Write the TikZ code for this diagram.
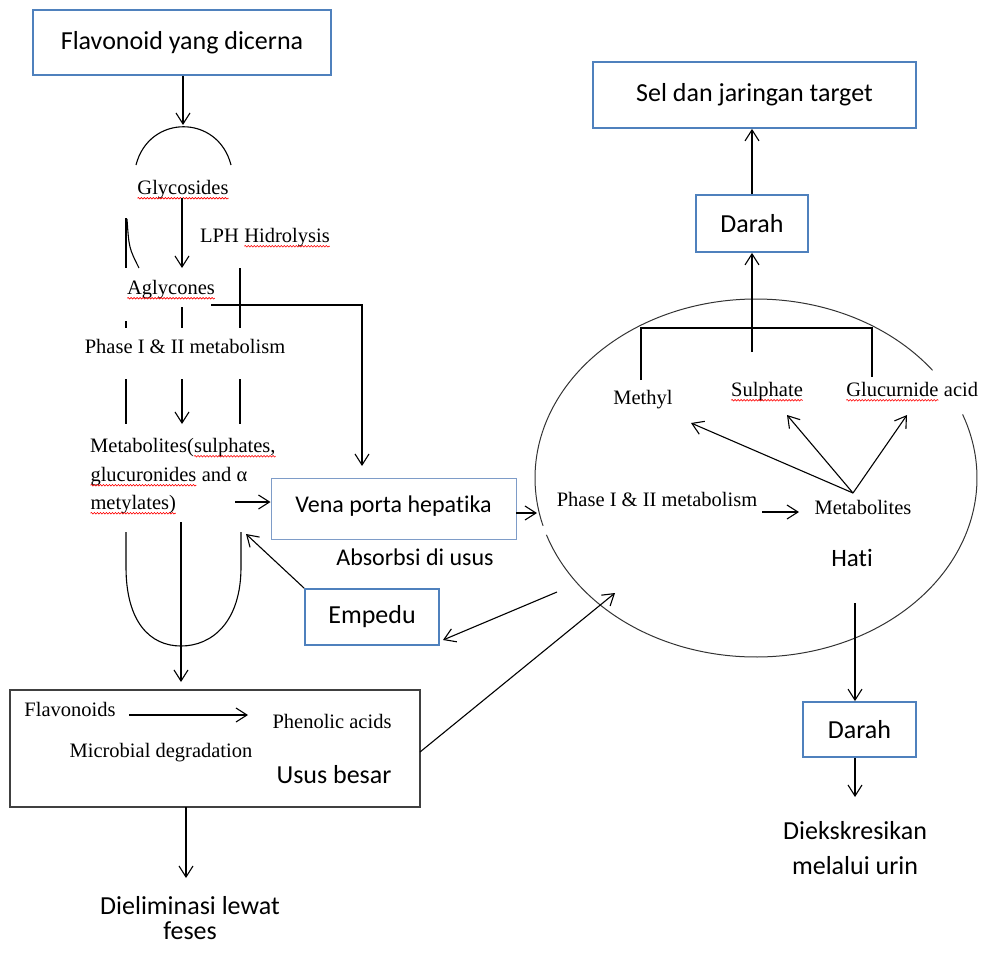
\documentclass[tikz,border=0pt]{standalone}
\usepackage{fontspec}
\setmainfont{Liberation Serif}
\newfontfamily\calib[Ligatures=NoCommon,RawFeature=-liga]{Carlito}
\usetikzlibrary{arrows.meta,decorations.pathmorphing}
\definecolor{boxblue}{HTML}{4F81BD}
\definecolor{liteblue}{HTML}{7E9CC8}
\newcommand\rw[1]{\tikz[baseline=(w.base)]{\node[inner sep=0pt,outer sep=0pt,text height=,text depth=,anchor=base] (w) at (0,0) {#1};\draw[red,line width=0.6pt,decorate,decoration={snake,amplitude=0.8pt,segment length=3pt}] ([yshift=-3.5pt]w.base west) -- ([yshift=-3.5pt]w.base east);}}
\begin{document}
\begin{tikzpicture}[x=1pt,y=-1pt,line width=1.1pt,
  arr/.style={-{Straight Barb[length=11pt,width=14pt,line width=1.1pt]}},
  bbox/.style={draw=boxblue,line width=1.8pt,font=\calib\fontsize{26}{30}\selectfont,inner sep=0pt},
  vbox/.style={draw=liteblue,line width=1pt,font=\calib\fontsize{24}{28}\selectfont,inner sep=0pt},
  gbox/.style={draw=black!75,line width=1.4pt,inner sep=0pt},
  tm/.style={font=\fontsize{20.5}{24}\selectfont,inner sep=0pt,text height=14pt,text depth=4.5pt},
  cb/.style={font=\calib\fontsize{26}{30}\selectfont,inner sep=0pt,text height=18pt,text depth=6pt},
  cbs/.style={cb,font=\calib\fontsize{24}{28}\selectfont},
  ell/.style={draw=black!80,line width=1pt}]
\useasboundingbox (0,0) rectangle (981,953);

% ---------- boxes ----------
\node[bbox,minimum width=298pt,minimum height=65pt] (flav) at (182,42.5) {Flavonoid yang dicerna};
\node[bbox,minimum width=323pt,minimum height=66pt] (sel) at (754.5,95) {Sel dan jaringan target};
\node[bbox,minimum width=112pt,minimum height=57pt] (darah1) at (752,223.5) {Darah};
\node[bbox,minimum width=113pt,minimum height=55pt] (darah2) at (859.5,729.5) {Darah};
\node[bbox,minimum width=134pt,minimum height=56pt] (empedu) at (372,617) {Empedu};
\node[vbox,minimum width=245pt,minimum height=61pt,text depth=9pt] (vena) at (393.5,508.5) {Vena porta hepatika};
\node[gbox,minimum width=410pt,minimum height=117pt] (usus) at (215,748.5) {};

% ---------- left column texts ----------
\node[tm] (glyc) at (183,190) {\rw{Glycosides}};
\node[tm,anchor=west] (lph) at (200,238) {LPH \rw{Hidrolysis}};
\node[tm] (agly) at (171,290) {\rw{Aglycones}};
\node[tm] (ph1) at (185,349) {Phase I \& II metabolism};
\node[tm,anchor=west] (met1) at (90,448) {Metabolites(\rw{sulphates,}};
\node[tm,anchor=west] (met2) at (90,477) {\rw{glucuronides} and α};
\node[tm,anchor=west] (met3) at (90,505) {\rw{metylates)}};
\node[cbs] (abs) at (415,559) {Absorbsi di usus};

% ---------- large intestine ----------
\node[tm] (flavs) at (70,712) {Flavonoids};
\node[tm] (phen) at (332,724) {Phenolic acids};
\node[tm] (micro) at (161,753) {Microbial degradation};
\node[cb] (ususlbl) at (334,777) {Usus besar};
\node[cb] (elim1) at (190,908) {Dieliminasi lewat};
\node[cb] (elim2) at (190,933) {feses};

% ---------- liver ----------
\coordinate (liv) at (756,478);
\draw[ell] plot[domain=-195.5:-37,samples=100,smooth,variable=\t] ({756+221*cos(\t)},{478+179*sin(\t)});
\draw[ell] plot[domain=-20.8:161.5,samples=100,smooth,variable=\t] ({756+221*cos(\t)},{478+179*sin(\t)});
\node[tm] (methyl) at (643,400) {Methyl};
\node[tm] (sulph) at (767,392) {\rw{Sulphate}};
\node[tm] (gluc) at (912,392) {\rw{Glucurnide} acid};
\node[tm] (ph2) at (657,502) {Phase I \& II metabolism};
\node[tm] (metab) at (863,510) {Metabolites};
\node[cb,font=\calib\fontsize{25}{29}\selectfont] (hati) at (852,560) {Hati};
\node[cb] (urin1) at (855,833) {Diekskresikan};
\node[cb] (urin2) at (855,868) {melalui urin};

% ---------- coordinates ----------
\coordinate (captop) at (183,125);
\coordinate (capl) at (136,165);
\coordinate (capr) at (231,165);
\coordinate (glycout) at (182,198);
\coordinate (aglyin) at (182,268);
\coordinate (hjoin) at (211,305);
\coordinate (hcorner) at (362,305);
\coordinate (venain) at (362,466);
\coordinate (metout) at (235,502);
\coordinate (venaout) at (516,513);
\coordinate (livin) at (537,513);
\coordinate (bilein) at (246,534);
\coordinate (bileout) at (557,592);
\coordinate (bilehead) at (443,640);
\coordinate (colonout) at (420,752);
\coordinate (colonhead) at (615,593);
\coordinate (mid) at (181,522);
\coordinate (midhead) at (181,682);
\coordinate (flin) at (129,715);
\coordinate (flhead) at (248,715);
\coordinate (fecout) at (186,807);
\coordinate (fechead) at (186,878);
\coordinate (brl) at (641,328);
\coordinate (brr) at (872,328);
\coordinate (brstem) at (752,352);
\coordinate (fork) at (853,493);
\coordinate (methylhead) at (691,423);
\coordinate (sulphhead) at (787,415);
\coordinate (gluchead) at (907,415);
\coordinate (phout) at (762,512);
\coordinate (phhead) at (799,512);
\coordinate (hatiout) at (855,603);
\coordinate (urinhead) at (855,797);

% ---------- connectors: left ----------
\draw[arr] (flav.south -| captop) -- (captop);
\draw (capl) .. controls (149,114) and (218,114) .. (capr);
\draw[arr] (glycout) -- (aglyin);
\draw (126,218) -- (126,268);
\draw (127,219) .. controls (129,248) .. (139,268);
\draw (240,268) -- (240,328);
\draw[arr] (hjoin) -- (hcorner) -- (venain);
\draw (126,321) -- (126,328);
\draw (182,307) -- (182,328);
\draw (126,379) -- (126,424);
\draw[arr] (182,379) -- (182,424);
\draw (240,379) -- (240,424);
\draw[arr] (metout) -- (metout -| vena.west);
\draw[arr] (venaout) -- (livin);
\draw (126,532) -- (126,567) .. controls (126,622) and (150,646) .. (181,646)
      .. controls (212,646) and (241,622) .. (241,567) -- (241,532);
\draw[arr] (mid) -- (midhead);
\draw[arr] (empedu.north west) -- (bilein);
\draw[arr] (bileout) -- (bilehead);
\draw[arr] (colonout) -- (colonhead);
\draw[arr] (flin) -- (flhead);
\draw[arr] (fecout) -- (fechead);

% ---------- connectors: liver ----------
\draw (641,380) -- (brl) -- (brr) -- (872,377);
\draw[arr] (brstem) -- (brstem |- darah1.south);
\draw[arr] (darah1.north) -- (darah1.north |- sel.south);
\draw[arr] (fork) -- (methylhead);
\draw[arr] (fork) -- (sulphhead);
\draw[arr] (fork) -- (gluchead);
\draw[arr] (phout) -- (phhead);
\draw[arr] (hatiout) -- (hatiout |- darah2.north);
\draw[arr] (hatiout |- darah2.south) -- (urinhead);
\end{tikzpicture}
\end{document}
